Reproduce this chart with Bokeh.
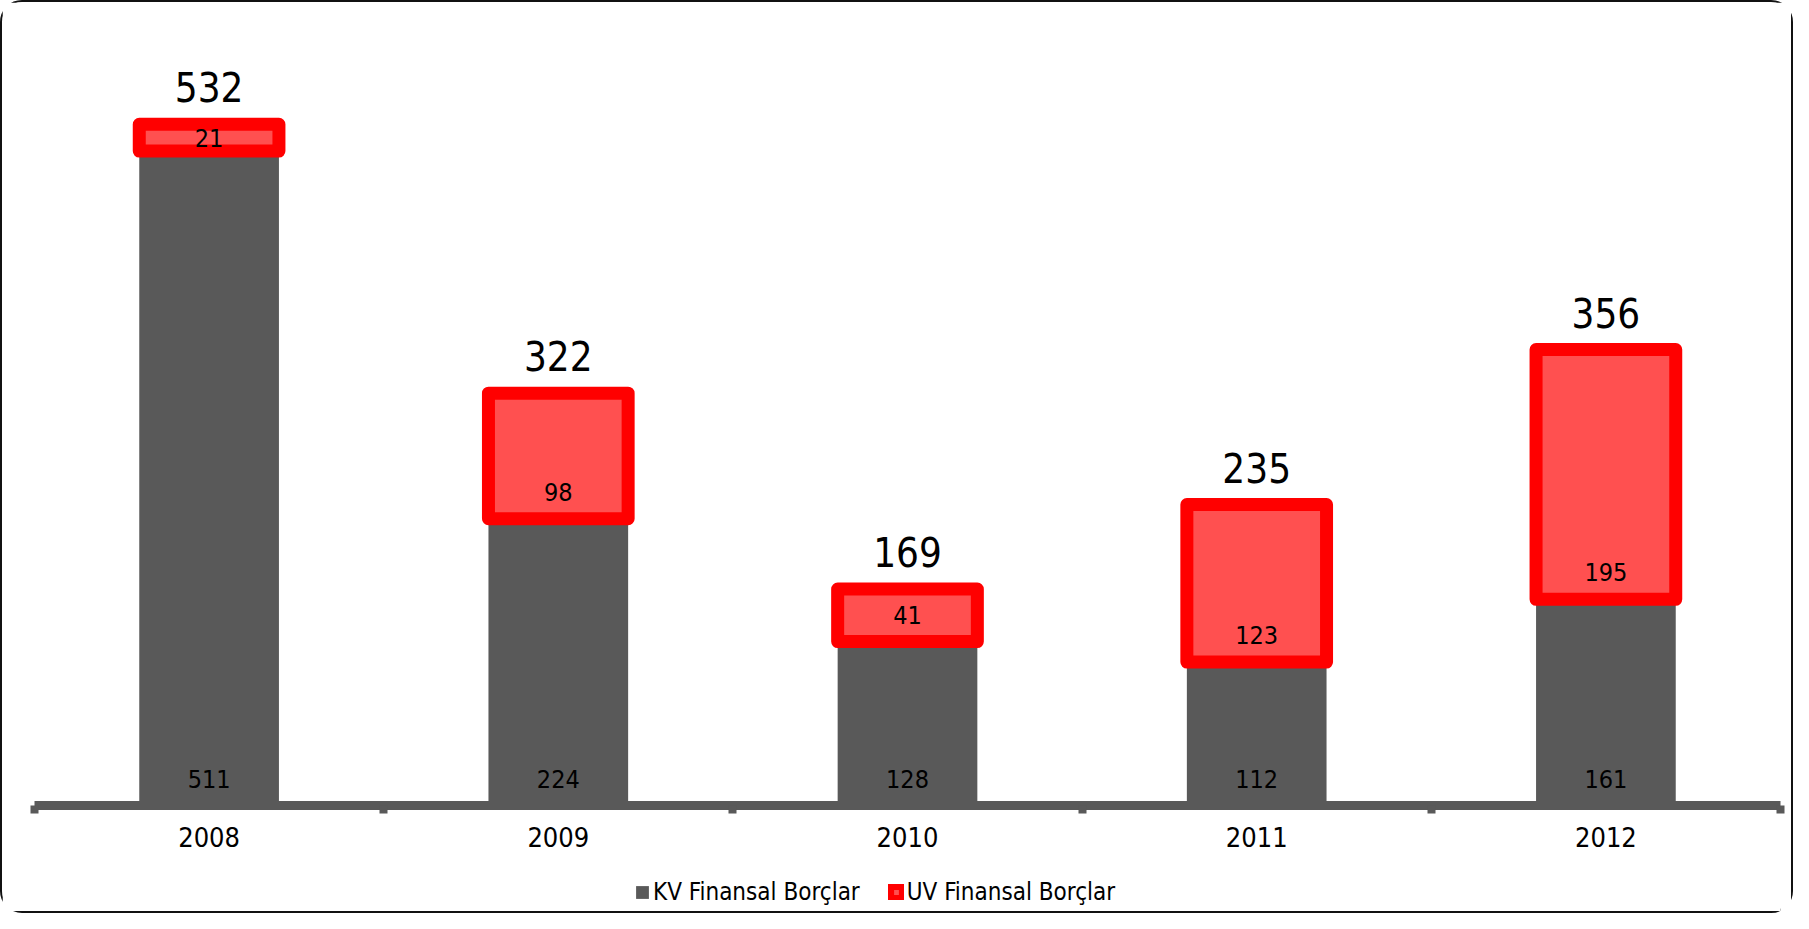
import numpy as np
from bokeh.plotting import figure
from bokeh.layouts import column
from bokeh.models import ColumnDataSource, FixedTicker, Range1d, Legend, LegendItem
from bokeh.core.properties import value
from bokeh.embed import file_html
from bokeh.resources import INLINE

# ---- data ----
years = ["2008", "2009", "2010", "2011", "2012"]
kv_values = [511, 224, 128, 112, 161]      # KV Finansal Borçlar
uv_values = [21, 98, 41, 123, 195]         # UV Finansal Borçlar
totals = [532, 322, 169, 235, 356]
series_names = ["KV Finansal Borçlar", "UV Finansal Borçlar"]

# ---- style ----
FONT = "DejaVu Sans Condensed, DejaVu Sans, sans-serif"
GRAY = "#595959"
RED = "#FF0000"
LIGHT = "#FF5050"
LBL = 21.0  # inside-base label offset in data units

x = np.arange(len(years)) + 0.5
kv = np.array(kv_values, dtype=float)
uv = np.array(uv_values, dtype=float)
top = kv + uv

src = ColumnDataSource(dict(
    x=x, kv=kv, top=top,
    kv_lbl=np.minimum(LBL, kv / 2), uv_lbl=kv + np.minimum(LBL, uv / 2),
    kv_txt=[str(v) for v in kv_values], uv_txt=[str(v) for v in uv_values],
    tot_txt=[str(v) for v in totals],
))

p = figure(width=1789, height=850, x_range=Range1d(0, 5), y_range=Range1d(0, 613),
           output_backend="svg", toolbar_location=None, y_axis_location=None,
           min_border_left=32, min_border_right=11, min_border_top=18, min_border_bottom=47)
p.outline_line_color = None
p.grid.visible = False
p.background_fill_color = "white"
p.border_fill_color = "white"

gray_r = p.vbar(x="x", width=0.4, bottom=0, top="kv", source=src,
                fill_color=GRAY, line_color=None)
red_r = p.vbar(x="x", width=0.4, bottom="kv", top="top", source=src,
               fill_color=LIGHT, line_color=RED, line_width=13, line_join="round")

p.text(x="x", y="kv_lbl", text="kv_txt", source=src, text_align="center",
       text_baseline="middle", text_font=value(FONT), text_font_size="25px", text_color="black")
p.text(x="x", y="uv_lbl", text="uv_txt", source=src, text_align="center",
       text_baseline="middle", text_font=value(FONT), text_font_size="25px", text_color="black")
p.text(x="x", y="top", text="tot_txt", source=src, text_align="center",
       text_baseline="bottom", y_offset=-22, text_font=value(FONT),
       text_font_size="40px", text_color="black")

ax = p.xaxis[0]
ax.ticker = FixedTicker(ticks=list(x), minor_ticks=list(range(len(years) + 1)))
ax.major_label_overrides = {float(xi): yr for xi, yr in zip(x, years)}
ax.axis_line_color = GRAY
ax.axis_line_width = 9
ax.major_tick_line_color = None
ax.major_tick_out = 0
ax.major_tick_in = 0
ax.minor_tick_line_color = GRAY
ax.minor_tick_line_width = 8
ax.minor_tick_out = 8
ax.minor_tick_in = 0
ax.major_label_standoff = 13
ax.major_label_text_font = FONT
ax.major_label_text_font_size = "27px"
ax.major_label_text_color = "black"

# ---- legend strip below the chart ----
# hidden copies of the two series supply the key swatches only
lp = figure(width=1789, height=59, x_range=Range1d(-3, -2), y_range=Range1d(0, 1),
            output_backend="svg", toolbar_location=None,
            x_axis_location=None, y_axis_location=None,
            min_border_left=0, min_border_right=0, min_border_top=0, min_border_bottom=0)
lp.outline_line_color = None
lp.grid.visible = False
lp.background_fill_color = "white"
lp.border_fill_color = "white"

kv_key = lp.vbar(x="x", width=0.4, bottom=0, top="kv", source=src,
                 fill_color=GRAY, line_color=None, visible=False)
uv_key = lp.vbar(x="x", width=0.4, bottom="kv", top="top", source=src,
                 fill_color=LIGHT, line_color=RED, line_width=8, line_join="round",
                 visible=False)

legend = Legend(items=[LegendItem(label=series_names[0], renderers=[kv_key]),
                       LegendItem(label=series_names[1], renderers=[uv_key])],
                location=(600, 5), orientation="horizontal",
                glyph_width=16, glyph_height=16, label_standoff=3, spacing=28,
                padding=0, margin=0, border_line_color=None, background_fill_alpha=0,
                inactive_fill_alpha=0,
                label_text_font=FONT, label_text_font_size="24px", label_text_color="black")
lp.add_layout(legend)

layout = column(p, lp, spacing=0,
                styles={"border": "2px solid #111111", "border-radius": "22px",
                        "background-color": "white"})

open("out.html", "w").write(file_html(layout, INLINE))
